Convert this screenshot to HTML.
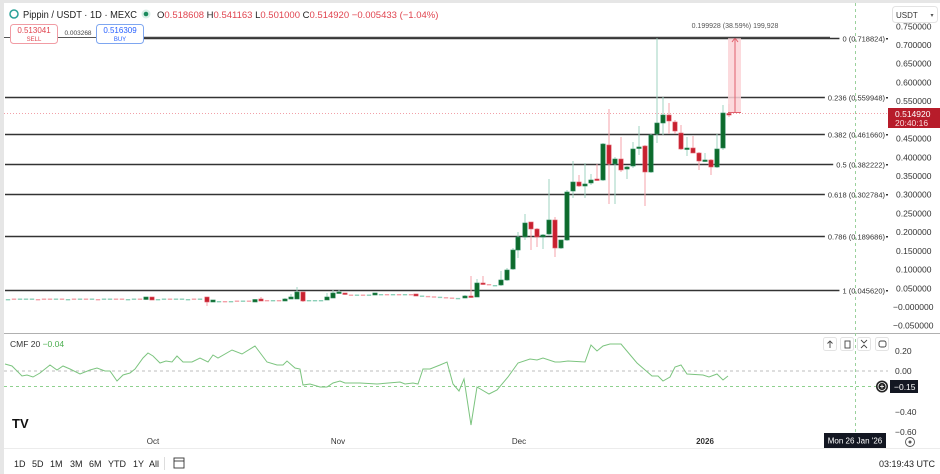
<!DOCTYPE html>
<html><head><meta charset="utf-8"><style>
html,body{margin:0;padding:0;background:#fff;}
body{width:940px;height:474px;overflow:hidden;position:relative;font-family:"Liberation Sans",sans-serif;}
svg{position:absolute;left:0;top:0;}
</style></head><body>
<svg id="s" width="940" height="474" viewBox="0 0 940 474" font-family="Liberation Sans, sans-serif">
<rect x="0" y="0" width="940" height="474" fill="#fff"/>
<rect x="0" y="0" width="940" height="3" fill="#e6e6e6"/>
<rect x="0" y="0" width="4" height="474" fill="#e6e6e6"/>
<line x1="4" y1="333.5" x2="940" y2="333.5" stroke="#b0b0b0" stroke-width="1"/>
<line x1="4" y1="448.5" x2="940" y2="448.5" stroke="#ececec" stroke-width="1"/>
<line x1="855.5" y1="3" x2="855.5" y2="448" stroke="#9ad19c" stroke-width="1" stroke-dasharray="3,3"/>
<g id="fib"></g>
<line x1="4" y1="113.5" x2="888" y2="113.5" stroke="#f2a0a8" stroke-width="1" stroke-dasharray="1,2"/>
<g id="candles"></g>
<rect x="728" y="38" width="13" height="75" fill="#fbd3d7" opacity="0.85"/>
<line x1="735" y1="112" x2="735" y2="39" stroke="#e0606d" stroke-width="1"/>
<polyline points="732,42 735,38 738,42" fill="none" stroke="#e0606d" stroke-width="1"/>
<line x1="728" y1="112.5" x2="741" y2="112.5" stroke="#e0606d" stroke-width="1"/>
<text x="735" y="28" font-size="7" fill="#555" text-anchor="middle">0.199928 (38.59%) 199,928</text>
<circle cx="14" cy="14" r="4" fill="none" stroke="#2aa198" stroke-width="1.5"/>
<text x="23" y="18" font-size="10.5" fill="#222" textLength="114" lengthAdjust="spacingAndGlyphs">Pippin / USDT · 1D · MEXC</text>
<circle cx="146" cy="14" r="4.5" fill="#d8eee6"/><circle cx="146" cy="14" r="2.3" fill="#1a8a5c"/>
<text x="157" y="18" font-size="9.5" fill="#222">O<tspan fill="#e0444f">0.518608</tspan> H<tspan fill="#e0444f">0.541163</tspan> L<tspan fill="#e0444f">0.501000</tspan> C<tspan fill="#e0444f">0.514920</tspan> <tspan fill="#e0444f">−0.005433 (−1.04%)</tspan></text>
<line x1="4" y1="37.5" x2="100" y2="37.5" stroke="#555" stroke-width="1"/>
<line x1="140" y1="37.5" x2="830" y2="37.5" stroke="#444" stroke-width="1.5"/>
<rect x="10.5" y="24.5" width="47" height="19" rx="3" fill="#fff" stroke="#f19ca4"/>
<text x="34" y="33" font-size="8" fill="#e0444f" text-anchor="middle">0.513041</text>
<text x="34" y="41" font-size="6" fill="#e0444f" text-anchor="middle">SELL</text>
<text x="78" y="35" font-size="6.5" fill="#444" text-anchor="middle">0.003268</text>
<rect x="96.5" y="24.5" width="47" height="19" rx="3" fill="#fff" stroke="#7ea6f0"/>
<text x="120" y="33" font-size="8" fill="#2962ff" text-anchor="middle">0.516309</text>
<text x="120" y="41" font-size="6" fill="#2962ff" text-anchor="middle">BUY</text>
<rect x="892.5" y="6.5" width="45" height="16" rx="3" fill="#fff" stroke="#e3e3e3"/>
<text x="896" y="18" font-size="8" fill="#333">USDT</text>
<text x="932" y="17" font-size="6" fill="#555" text-anchor="middle">▾</text>
<g id="axis" font-size="8.5" fill="#333"></g>
<rect x="888" y="108" width="52" height="20" fill="#b71c2a"/>
<text x="895" y="117" font-size="8.5" fill="#fff">0.514920</text>
<text x="895" y="126" font-size="8.5" fill="#fbdada">20:40:16</text>
<text x="10" y="347" font-size="8.5" fill="#333">CMF 20 <tspan fill="#4caf50">  −0.04</tspan></text>
<line x1="4" y1="371" x2="888" y2="371" stroke="#bdbdbd" stroke-width="1" stroke-dasharray="3,3"/>
<line x1="4" y1="386.5" x2="888" y2="386.5" stroke="#8fd18f" stroke-width="1" stroke-dasharray="3,3"/>
<polyline fill="none" stroke="#7cc47f" stroke-width="1" points="5,364 12,366 22,376 27,375 33,377 40,373 50,365 57,370 63,366 70,369 80,374 90,370 97,368 105,371 110,371 117,381 123,375 130,373 135,369 143,358 148,353 153,356 160,363 166,361 172,362 177,356 183,362 192,362 200,358 208,362 213,355 218,358 232,350 242,354 255,346 267,362 277,365 283,365 287,361 295,368 300,369 303,385 310,384 320,387 327,387 333,383 340,381 345,383 360,383 377,384 400,382 405,384 413,383 418,384 423,369 430,369 440,365 447,362 453,384 459,391 464,379 471,425 477,387 489,394 497,390 508,377 518,363 530,359 537,360 543,358 555,362 560,362 568,361 585,362 591,345 597,351 603,346 610,344 621,344 637,363 652,376 658,376 663,381 670,377 675,367 681,365 687,374 703,375 709,377 717,374 723,380 728,376"/>
<g font-size="8.5" fill="#333">
<text x="895" y="354">0.20</text><text x="895" y="374">0.00</text><text x="895" y="415">−0.40</text><text x="895" y="435">−0.60</text>
</g>
<circle cx="882" cy="386.5" r="6" fill="#222"/><circle cx="882" cy="386.5" r="4" fill="none" stroke="#fff" stroke-width="0.8"/>
<line x1="880" y1="386.5" x2="884" y2="386.5" stroke="#fff" stroke-width="0.8"/><line x1="882" y1="384.5" x2="882" y2="388.5" stroke="#fff" stroke-width="0.8"/>
<rect x="890" y="380" width="28" height="13" fill="#131722"/>
<text x="894" y="390" font-size="8.5" fill="#fff">−0.15</text>
<g fill="#fff" stroke="#e3e3e3">
<rect x="823.5" y="337.5" width="13" height="13" rx="2"/><rect x="840.5" y="337.5" width="13" height="13" rx="2"/><rect x="857.5" y="337.5" width="13" height="13" rx="2"/><rect x="875.5" y="337.5" width="13" height="13" rx="2"/>
</g>
<g stroke="#444" stroke-width="0.9" fill="none">
<line x1="830" y1="341" x2="830" y2="348"/><polyline points="827.5,343.5 830,341 832.5,343.5"/>
<rect x="845" y="341" width="5" height="7"/>
<polyline points="861,340 864,343 867,340"/><polyline points="861,348 864,345 867,348"/>
<rect x="879" y="341" width="7" height="6" rx="2"/>
</g>
<text x="12" y="428" font-size="13" font-weight="bold" fill="#111">TV</text>
<g font-size="8" fill="#333" text-anchor="middle">
<text x="153" y="444">Oct</text><text x="338" y="444">Nov</text><text x="519" y="444">Dec</text><text x="705" y="444" font-weight="bold">2026</text>
</g>
<rect x="824" y="433" width="62" height="15" fill="#131722"/>
<text x="855" y="443.5" font-size="8" fill="#fff" text-anchor="middle">Mon 26 Jan '26</text>
<circle cx="910" cy="442" r="4.5" fill="none" stroke="#555" stroke-width="0.9"/><circle cx="910" cy="442" r="1.5" fill="#555"/>
<g font-size="9" fill="#222">
<text x="14" y="467">1D</text><text x="32" y="467">5D</text><text x="50" y="467">1M</text><text x="70" y="467">3M</text><text x="89" y="467">6M</text><text x="108" y="467">YTD</text><text x="133" y="467">1Y</text><text x="149" y="467">All</text>
<text x="935" y="467" text-anchor="end">03:19:43 UTC</text>
</g>
<line x1="164.5" y1="457" x2="164.5" y2="470" stroke="#ddd"/>
<rect x="174" y="458" width="10" height="10" fill="none" stroke="#333" stroke-width="0.9"/>
<line x1="174" y1="461" x2="184" y2="461" stroke="#333" stroke-width="0.9"/>
</svg>
<script>
var NS="http://www.w3.org/2000/svg";
function el(p,t,a){var e=document.createElementNS(NS,t);for(var k in a)e.setAttribute(k,a[k]);p.appendChild(e);return e;}
function Y(p){return 307-374.3*p;}
var fib=document.getElementById('fib');
var fibs=[["0",0.718824],["0.236",0.559948],["0.382",0.46166],["0.5",0.382222],["0.618",0.302784],["0.786",0.189686],["1",0.04562]];
fibs.forEach(function(f,i){var y=Math.round(Y(f[1]))+0.5;
 var t=el(fib,'text',{x:885,y:y+3,'font-size':7.5,fill:'#333','text-anchor':'end'});
 t.textContent=f[0]+" ("+f[1].toFixed(6)+")";
 var w=t.getComputedTextLength?t.getComputedTextLength():60;
 var xe=885-w-3;
 el(fib,'line',{x1:i>0?5:143,y1:y,x2:xe,y2:y,stroke:'#333','stroke-width':1.5});
 el(fib,'rect',{x:886,y:y-0.5,width:2,height:1.5,fill:'#333'});
});
var ax=document.getElementById('axis');
for(var v=0.75;v>-0.06;v-=0.05){var y=Y(v);if(Math.abs(v-0.5)<0.01)continue;
 var t=el(ax,'text',{x:v<-0.001||Math.abs(v)<0.001?893:896,y:y+3});
 var s=(Math.abs(v)<0.001)?"−0.000000":(v<0?"−"+(-v).toFixed(6):v.toFixed(6));t.textContent=s;}
var G="#0d6b2c",GW="#9fd3c0",R="#c8202f",RW="#f5a3ab";
var c=document.getElementById('candles');
function cd(x,wt,bt,bb,wb,col){
 el(c,'line',{x1:x,y1:wt,x2:x,y2:wb,stroke:col=='g'?GW:RW,'stroke-width':1});
 var h=Math.max(bb-bt,1.5);
 el(c,'rect',{x:x-2.2,y:bt,width:4.4,height:h,fill:col=='g'?G:R,stroke:col=='g'?'#2c8a5e':'#e06470','stroke-width':0.6});
}
function dash(x,y,col){el(c,'rect',{x:x-2.2,y:y,width:4.4,height:1.4,fill:col=='g'?'#8ccfb8':'#f4a0a8'});}
var cols="grgggrrrgrgrgrgrggrrggrgrggrgggrg";
for(var i=0;i<33;i++){var x=8+i*6; if(x==146){cd(x,297,297,299.5,300,'g');continue;} if(x==152){cd(x,297,297,300,300,'r');continue;} dash(x,298.5+(i%5==0?0.5:0),cols[i]);}
cd(207,297,297,302,306,'r');cd(213,300,300,302,302,'g');
[219,225,231,237,243,249].forEach(function(x,i){dash(x,301-(i>2?0.5:0),i%2?'r':'g');});
cd(255,299,299.5,302,302,'g');cd(261,297,299,301,301,'r');
[267,273,279].forEach(function(x,i){dash(x,300,i%2?'g':'r');});
cd(285,298,299,301,301,'g');cd(291,294,297,299,299,'g');cd(297,287,292,299,299,'g');cd(303,292,292,301,302,'r');
[309,315,321].forEach(function(x,i){dash(x,300,'g');});
cd(327,293,297,300,300,'g');cd(333,290,293,298,298,'g');cd(339,290,292,293,293,'g');cd(345,293,293,294.5,295,'r');
[351,357,363,369].forEach(function(x,i){dash(x,294.5,i%2?'g':'r');});
cd(375,293,293,295,295,'g');
[381,387,393,399,405,411].forEach(function(x,i){dash(x,294,i%2?'r':'g');});
cd(416,294,294,296,296,'r');
[422,428,434,440,446,452,458].forEach(function(x,i){dash(x,295.5+i*0.4,i%3?'r':'g');});
cd(465,295,296,298,298,'g');cd(471,276,296,297.5,298,'r');
cd(477,279,283,297,297,'g');cd(483,276,283,284.5,285,'r');dash(489,284,'r');dash(495,285,'g');
cd(501,271,280,285,286,'g');cd(507,268,270,280,281,'g');cd(513,248,250,269,270,'g');
cd(518,232,237,250,258,'g');cd(525,214,223,237,240,'g');cd(531,222,222,229,250,'r');
cd(537,228,229,237,247,'r');cd(543,234,235,237,249,'g');cd(549,179,220,234,236,'g');
cd(555,217,220,248,257,'r');cd(561,240,240,248,249,'g');cd(567,190,192,240,241,'g');
cd(573,161,182,191,198,'g');cd(579,175,182,186,187,'r');cd(585,163,184,186,198,'g');
cd(591,174,180,183,185,'g');cd(597,164,179,180.5,181,'r');cd(603,143,144,180,181,'g');
cd(609,109,145,164,204,'r');cd(615,157,159,164,204,'g');cd(621,137,159,170,172,'r');
cd(627,166,167,169,179,'g');cd(633,142,149,166,168,'g');cd(639,126,147,148.5,155,'g');
cd(645,145,146,172,206,'r');cd(651,134,135,172,173,'g');cd(657,37,123,134,143,'g');
cd(663,97,115,123,135,'g');cd(669,103,115,121,134,'r');cd(675,120,122,131,134,'r');
cd(681,125,133,149,150,'r');cd(687,137,148,149.5,156,'g');cd(693,136,148,153,153,'r');
cd(699,152,153,161,170,'r');cd(705,153,160,161.5,162,'g');cd(711,159,160,167,175,'r');
cd(717,134,149,167,168,'g');cd(723,105,113,148,150,'g');cd(729,104,113.5,115,117,'r');
</script>
</body></html>
